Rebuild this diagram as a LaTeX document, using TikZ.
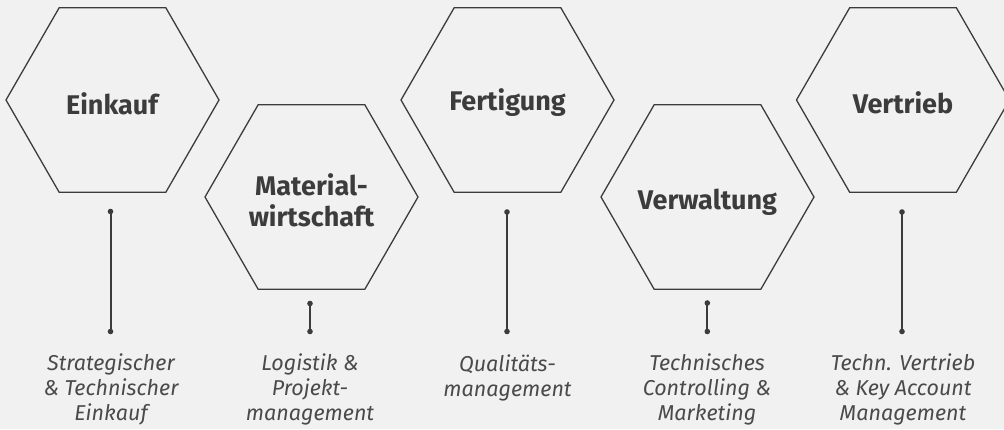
\documentclass[tikz,border=0pt]{standalone}
\usepackage{fontspec}
\setmainfont{Fira Sans}
\definecolor{bgc}{HTML}{F1F1F1}
\definecolor{ink}{HTML}{3C3C3C}
\definecolor{subink}{HTML}{4A4A4A}
\tikzset{
  hexline/.style={draw=ink, line width=1.3pt, line join=miter},
  headtxt/.style={font=\fontsize{27}{31.7}\selectfont\bfseries, text=ink, align=center, anchor=base, inner sep=0pt},
  subtxt/.style={font=\fontsize{21.5}{25}\selectfont\itshape, text=subink, align=center, anchor=base, inner sep=0pt},
  conn/.style={draw=ink, line width=2pt},
  dot/.style={fill=ink},
}
\begin{document}
\begin{tikzpicture}[x=1pt,y=-1pt]
\fill[bgc] (0,0) rectangle (1004,429);
\useasboundingbox (0,0) rectangle (1004,429);
% hexagons
\foreach \n/\x/\y in {1/112.5/100, 2/311.5/197, 3/507.5/100, 4/707.5/197, 5/903/100}{
  \coordinate (h\n) at (\x,\y);
  \draw[hexline, shift={(h\n)}] (-106.5,0) -- (-53.3,-92.3) -- (53.3,-92.3) -- (106.5,0) -- (53.3,92.3) -- (-53.3,92.3) -- cycle;
}
% headings (base = baseline of last line)
\node[headtxt] (l1) at (112,114) {Einkauf};
\node[headtxt] (l2) at (311.5,226.7) {Material-\\wirtschaft};
\node[headtxt] (l3) at (507.5,110) {Fertigung};
\node[headtxt] (l4) at (707.5,209) {Verwaltung};
\node[headtxt] (l5) at (903,113) {Vertrieb};
% connectors
\coordinate (t1) at (110.5,211.5); \coordinate (b1) at (110.5,331.5);
\coordinate (t2) at (310,303.5);   \coordinate (b2) at (310,331.5);
\coordinate (t3) at (507,212);     \coordinate (b3) at (507,331.5);
\coordinate (t4) at (707.3,303);   \coordinate (b4) at (707.3,331.5);
\coordinate (t5) at (902,212);     \coordinate (b5) at (902,331.5);
\foreach \n in {1,...,5}{
  \draw[conn] (t\n) -- (b\n);
  \fill[dot] (t\n) circle[radius=2.8];
  \fill[dot] (b\n) circle[radius=2.8];
}
% sub texts
\node[subtxt] (s1) at (111,420.7) {Strategischer\\\& Technischer\\Einkauf};
\node[subtxt] (s2) at (310,420.7) {Logistik \&\\Projekt-\\management};
\node[subtxt] (s3) at (507.5,396) {Qualitäts-\\management};
\node[subtxt] (s4) at (707,420.7) {Technisches\\Controlling \&\\Marketing};
\node[subtxt] (s5) at (903,420.7) {Techn. Vertrieb\\\& Key Account\\Management};
\end{tikzpicture}
\end{document}
